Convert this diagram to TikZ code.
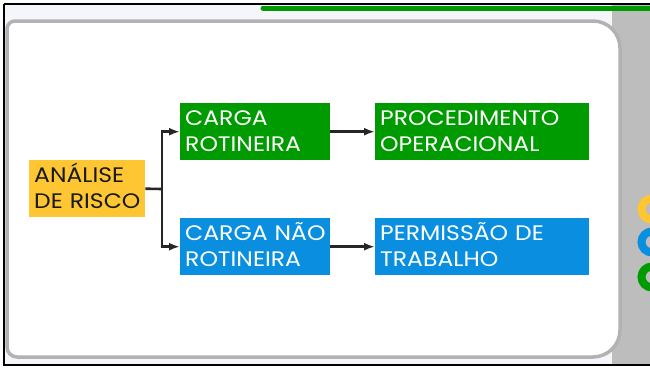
\documentclass[tikz,border=0pt]{standalone}
\usepackage{fontspec}
\setmainfont[FakeStretch=1.12]{Poppins}
\usetikzlibrary{arrows.meta}
\definecolor{amarelo}{HTML}{FFC633}
\definecolor{verde}{HTML}{009B00}
\definecolor{azul}{HTML}{0A8FE0}
\definecolor{cinza}{HTML}{BDBDBD}
\definecolor{claro}{HTML}{F5F6FA}
\pgfdeclarehorizontalshading{fundo}{100bp}{color(0bp)=(cinza); color(14bp)=(claro); color(74bp)=(claro); color(92bp)=(cinza); color(100bp)=(cinza)}

\begin{document}
\begin{tikzpicture}[x=1pt,y=-1pt,
  caixa/.style={anchor=north west, minimum height=57pt, text width=#1, inner xsep=5pt,
    text height=14pt, text depth=27pt, align=left, text=white,
    font=\fontsize{21}{26}\selectfont},
  seta/.style={-{Latex[length=11pt,width=8pt]}, line width=2.6pt, draw=black!85}]
\useasboundingbox (0,0) rectangle (650,367);
\clip (0,0) rectangle (650,367);
% moldura e fundo
\fill[white] (0,0) rectangle (650,367);
\shade[shading=fundo] (4,3.5) rectangle (660,365);
\fill[cinza] (612,3.5) rectangle (660,365);
\draw[line width=2pt] (4,3.5) -- (660,3.5);
\draw[line width=2pt] (4,3.5) -- (4,365) -- (660,365);
\draw[verde, line width=5pt, line cap=round] (263,8) -- (660,8);
\draw[fill=white, draw=black!30, line width=3.5pt] (7,190) [rounded corners=8] -- (7,21)
  [rounded corners=27] -- (620,21) -- (620,357) [rounded corners=10] -- (7,357) [sharp corners] -- cycle;
% aneis laterais
\draw[amarelo, line width=8pt] (652,209) circle (10.5);
\draw[azul, line width=8pt] (652,242) circle (10.5);
\draw[verde, line width=8pt] (652,277) circle (10.5);
% caixas
\node[caixa=106pt, fill=amarelo, text=black!90] (analise) at (29,160) {ANÁLISE\\DE~RISCO};
\node[caixa=140pt, fill=verde] (rot) at (180,103) {CARGA\\ROTINEIRA};
\node[caixa=140pt, fill=azul] (naorot) at (180,218) {CARGA~NÃO\\ROTINEIRA};
\node[caixa=204pt, fill=verde] (proc) at (375,103) {PROCEDIMENTO\\OPERACIONAL};
\node[caixa=204pt, fill=azul] (perm) at (375,218) {PERMISSÃO~DE\\TRABALHO};
% ligacoes
\coordinate (ramo) at (162,189);
\draw[line width=2.6pt, draw=black!85] (analise.east) -- (ramo);
\draw[seta] (ramo) |- (rot.west);
\draw[seta] (ramo) |- (naorot.west);
\draw[seta] (rot) -- (proc);
\draw[seta] (naorot) -- (perm);
\end{tikzpicture}
\end{document}
